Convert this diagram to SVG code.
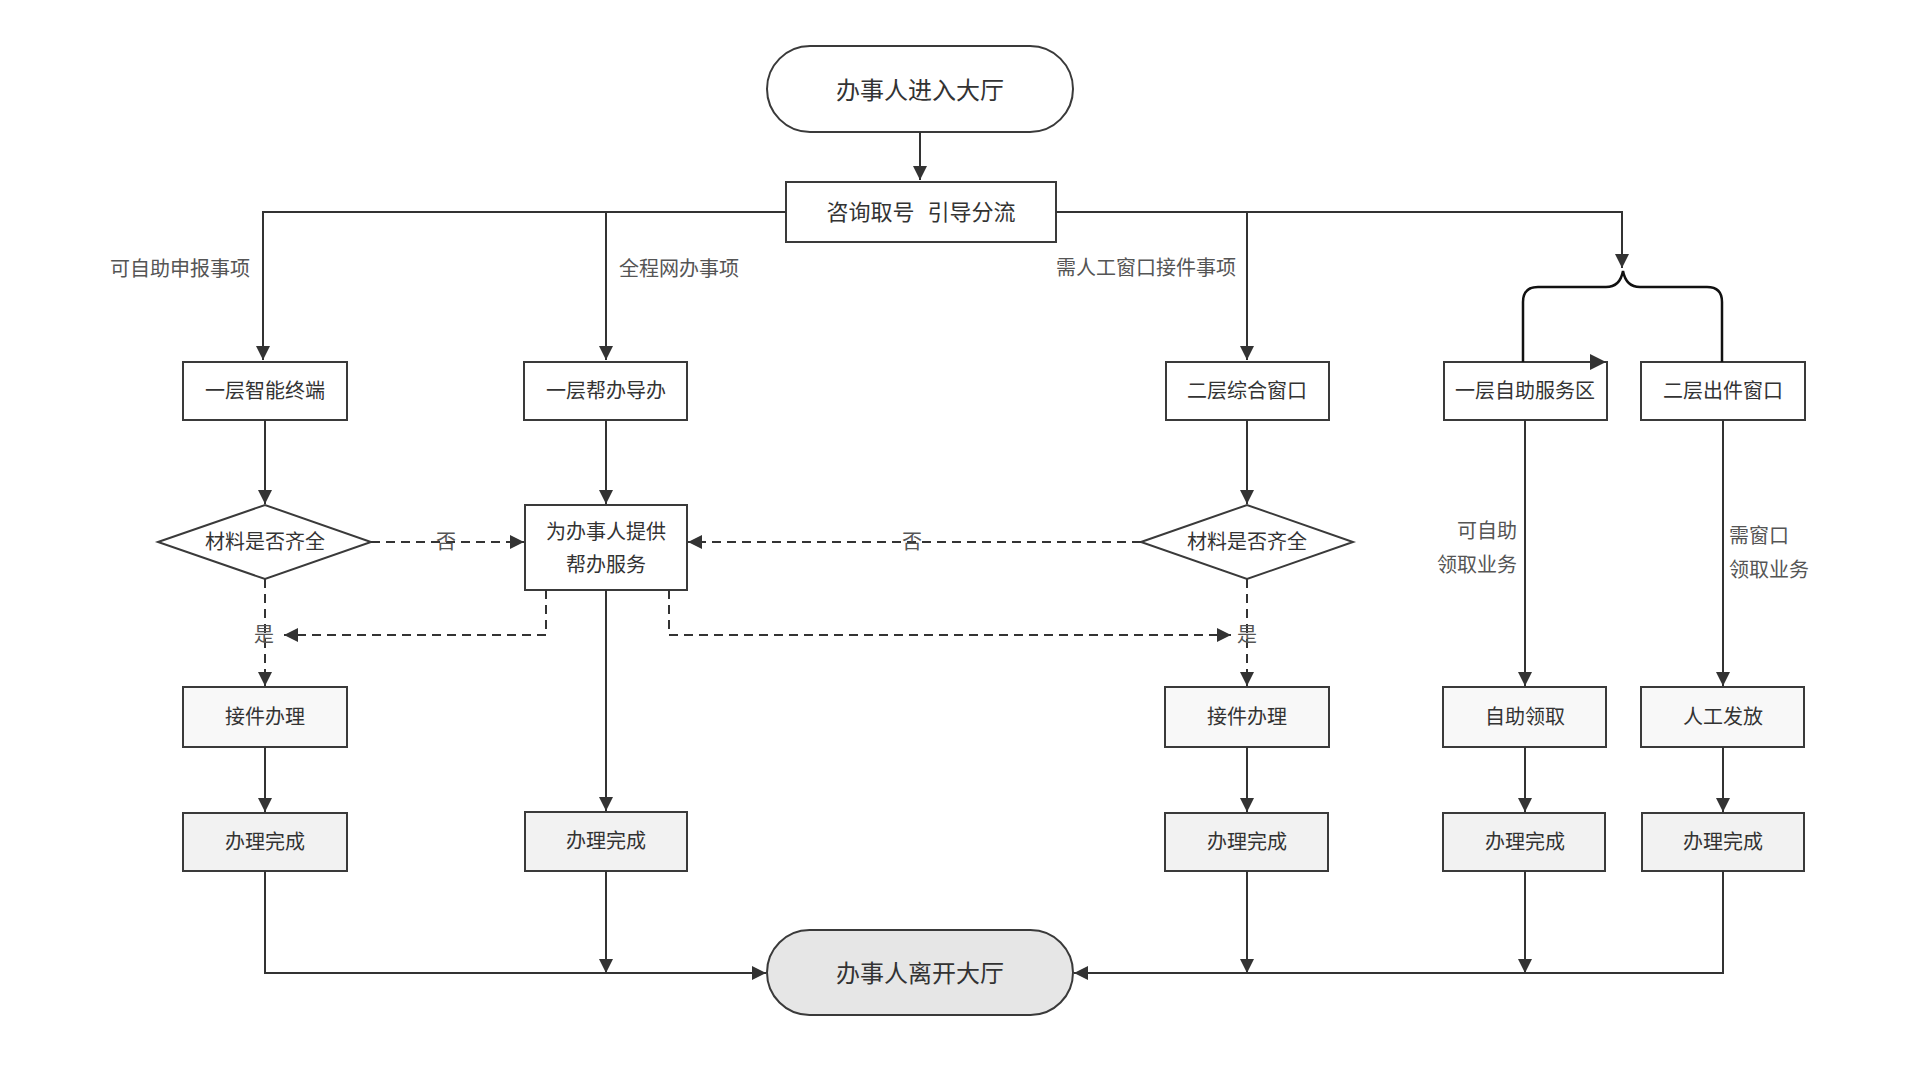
<svg xmlns="http://www.w3.org/2000/svg" width="1920" height="1080" viewBox="0 0 1920 1080">
<style>
text{font-family:"Noto Sans CJK SC","Liberation Sans",sans-serif;fill:#333;text-anchor:middle;dominant-baseline:central}
.box{fill:#fff;stroke:#3a3a3a;stroke-width:2}
.g1{fill:#f8f8f8}
.g2{fill:#f2f2f2}
.t20{font-size:20px}
.t24{font-size:24px}
.lbl{font-size:20px;fill:#555}
.ln{fill:none;stroke:#333;stroke-width:2}
.dash{stroke-dasharray:9 6}
</style>
<defs>
<marker id="ah" markerUnits="userSpaceOnUse" markerWidth="16" markerHeight="14" refX="14" refY="7" orient="auto">
<path d="M0,0 L14,7 L0,14 Z" fill="#333"/>
</marker>
</defs>
<rect width="1920" height="1080" fill="#fff"/>

<g id="start"><rect class="box" x="767" y="46" width="306" height="86" rx="43"/><text class="t24" x="920" y="88">办事人进入大厅</text></g>
<g id="consult"><rect class="box" x="786" y="182" width="270" height="60"/><text class="t24" x="921" y="210" style="font-size:22px" word-spacing="8">咨询取号 引导分流</text></g>

<g id="terminal1"><rect class="box" x="183" y="362" width="164" height="58"/><text class="t20" x="265" y="389">一层智能终端</text></g>
<g id="helpdesk1"><rect class="box" x="524" y="362" width="163" height="58"/><text class="t20" x="606" y="389">一层帮办导办</text></g>
<g id="window2"><rect class="box" x="1166" y="362" width="163" height="58"/><text class="t20" x="1247" y="389">二层综合窗口</text></g>
<g id="self1"><rect class="box" x="1444" y="362" width="163" height="58"/><text class="t20" x="1525" y="389">一层自助服务区</text></g>
<g id="outwin2"><rect class="box" x="1641" y="362" width="164" height="58"/><text class="t20" x="1723" y="389">二层出件窗口</text></g>

<g id="check1"><path class="box" d="M158,542 L265,505 L371,542 L265,579 Z"/><text class="t20" x="265" y="540">材料是否齐全</text></g>
<g id="helpservice"><rect class="box" x="525" y="505" width="162" height="85"/><text class="t20" x="606" y="530">为办事人提供</text><text class="t20" x="606" y="563">帮办服务</text></g>
<g id="check2"><path class="box" d="M1141,542 L1247,505 L1353,542 L1247,579 Z"/><text class="t20" x="1247" y="540">材料是否齐全</text></g>

<g id="accept1"><rect class="box g1" x="183" y="687" width="164" height="60"/><text class="t20" x="265" y="715">接件办理</text></g>
<g id="accept2"><rect class="box g1" x="1165" y="687" width="164" height="60"/><text class="t20" x="1247" y="715">接件办理</text></g>
<g id="selfpick"><rect class="box g1" x="1443" y="687" width="163" height="60"/><text class="t20" x="1525" y="715">自助领取</text></g>
<g id="manual"><rect class="box g1" x="1641" y="687" width="163" height="60"/><text class="t20" x="1723" y="715">人工发放</text></g>

<g id="done1"><rect class="box g2" x="183" y="813" width="164" height="58"/><text class="t20" x="265" y="840">办理完成</text></g>
<g id="done2"><rect class="box g2" x="525" y="812" width="162" height="59"/><text class="t20" x="606" y="839">办理完成</text></g>
<g id="done3"><rect class="box g2" x="1165" y="813" width="163" height="58"/><text class="t20" x="1247" y="840">办理完成</text></g>
<g id="done4"><rect class="box g2" x="1443" y="813" width="162" height="58"/><text class="t20" x="1525" y="840">办理完成</text></g>
<g id="done5"><rect class="box g2" x="1642" y="813" width="162" height="58"/><text class="t20" x="1723" y="840">办理完成</text></g>

<g id="end"><rect class="box" style="fill:#e6e6e6" x="767" y="930" width="306" height="85" rx="42.5"/><text class="t24" x="920" y="971">办事人离开大厅</text></g>

<g id="connectors">
<path class="ln" d="M920,132 V180" marker-end="url(#ah)"/>
<path class="ln" d="M786,212 H263 V360" marker-end="url(#ah)"/>
<path class="ln" d="M606,212 V360" marker-end="url(#ah)"/>
<path class="ln" d="M1056,212 H1622 V268" marker-end="url(#ah)"/>
<path class="ln" d="M1247,212 V360" marker-end="url(#ah)"/>
<path fill="none" stroke="#111" stroke-width="2.5" d="M1523,362 V302 Q1523,287 1538,287 H1606 Q1620,287 1623,271 Q1626,287 1640,287 H1707 Q1722,287 1722,302 V362"/>
<path d="M1590,354 L1606,362 L1590,370 Z" fill="#333"/>
<path class="ln" d="M265,420 V504" marker-end="url(#ah)"/>
<path class="ln" d="M606,420 V504" marker-end="url(#ah)"/>
<path class="ln" d="M1247,420 V504" marker-end="url(#ah)"/>
<path class="ln" d="M1525,420 V686" marker-end="url(#ah)"/>
<path class="ln" d="M1723,420 V686" marker-end="url(#ah)"/>
<path class="ln dash" d="M371,542 H524" marker-end="url(#ah)"/>
<path class="ln dash" d="M1141,542 H688" marker-end="url(#ah)"/>
<path class="ln dash" d="M265,579 V686" marker-end="url(#ah)"/>
<path class="ln dash" d="M546,590 V635 H284" marker-end="url(#ah)"/>
<path class="ln dash" d="M669,590 V635 H1231" marker-end="url(#ah)"/>
<path class="ln dash" d="M1247,579 V686" marker-end="url(#ah)"/>
<path class="ln" d="M265,747 V812" marker-end="url(#ah)"/>
<path class="ln" d="M606,590 V811" marker-end="url(#ah)"/>
<path class="ln" d="M1247,747 V812" marker-end="url(#ah)"/>
<path class="ln" d="M1525,747 V812" marker-end="url(#ah)"/>
<path class="ln" d="M1723,747 V812" marker-end="url(#ah)"/>
<path class="ln" d="M265,871 V973 H766" marker-end="url(#ah)"/>
<path class="ln" d="M606,871 V973" marker-end="url(#ah)"/>
<path class="ln" d="M1247,871 V973" marker-end="url(#ah)"/>
<path class="ln" d="M1525,871 V973" marker-end="url(#ah)"/>
<path class="ln" d="M1723,871 V973 H1074" marker-end="url(#ah)"/>
<text class="lbl" x="250" y="267" style="text-anchor:end">可自助申报事项</text>
<text class="lbl" x="619" y="267" style="text-anchor:start">全程网办事项</text>
<text class="lbl" x="1236" y="266" style="text-anchor:end">需人工窗口接件事项</text>
<text class="lbl" x="446" y="540">否</text>
<text class="lbl" x="912" y="540">否</text>
<text class="lbl" x="264" y="633">是</text>
<text class="lbl" x="1247" y="633">是</text>
<text class="lbl" x="1517" y="529" style="text-anchor:end">可自助</text>
<text class="lbl" x="1517" y="563" style="text-anchor:end">领取业务</text>
<text class="lbl" x="1729" y="534" style="text-anchor:start">需窗口</text>
<text class="lbl" x="1729" y="568" style="text-anchor:start">领取业务</text>
</g>
</svg>
